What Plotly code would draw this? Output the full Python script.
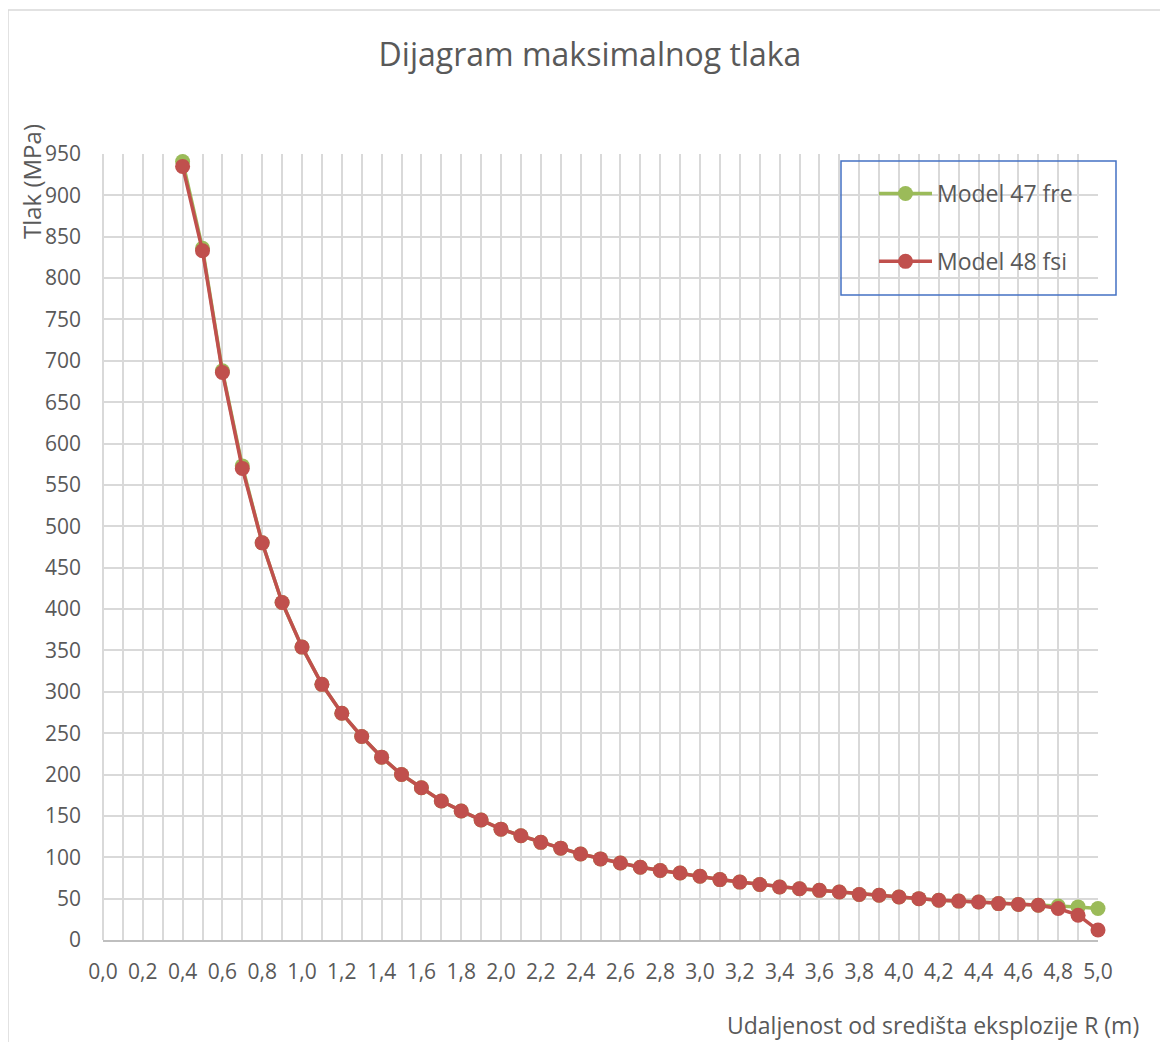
import plotly.graph_objects as go

# distance from explosion centre (m)
R = [0.4, 0.5, 0.6, 0.7, 0.8, 0.9, 1.0, 1.1, 1.2, 1.3, 1.4, 1.5, 1.6, 1.7, 1.8, 1.9,
     2.0, 2.1, 2.2, 2.3, 2.4, 2.5, 2.6, 2.7, 2.8, 2.9, 3.0, 3.1, 3.2, 3.3, 3.4, 3.5,
     3.6, 3.7, 3.8, 3.9, 4.0, 4.1, 4.2, 4.3, 4.4, 4.5, 4.6, 4.7, 4.8, 4.9, 5.0]

# max pressure (MPa)
model_47_fre = [941, 836, 688, 573, 480, 408, 354, 309, 274, 246, 221, 200, 184, 168, 156, 145,
                134, 126, 118, 111, 104, 98, 93, 88, 84, 81, 77, 73, 70, 67, 64, 62,
                60, 58, 55, 54, 52, 50, 48, 47, 46, 44, 43, 42, 41, 40, 38]
model_48_fsi = [935, 833, 686, 570, 480, 408, 354, 309, 274, 246, 221, 200, 184, 168, 156, 145,
                134, 126, 118, 111, 104, 98, 93, 88, 84, 81, 77, 73, 70, 67, 64, 62,
                60, 58, 55, 54, 52, 50, 48, 47, 46, 44, 43, 42, 38, 30, 12]

SERIES = [
    ('Model 47 fre', model_47_fre, '#9bbb59'),
    ('Model 48 fsi', model_48_fsi, '#c0504d'),
    ]

FONT = 'Open Sans'
TEXT = '#595959'
GRID = '#d9d9d9'

# the html body has an 8px margin, so the figure sits 8px in from the window corner
OFF = 8
W, H = 1152, 1034
# plot area in window pixels: x 103..1098, y 154..940
L, T = 103 - OFF, 154 - OFF
RM, B = W - (1098 - OFF), H - (940 - OFF)


def px(sx):
    return (sx - 103) / 995


def py(sy):
    return (940 - sy) / 786


traces = []
for i, (name, y, color) in enumerate(SERIES):
    traces.append(
        go.Scatter(
            x=R,
            y=y,
            name=name,
            legendgroup=str(i),
            mode='lines+markers',
            line=dict(color=color, width=3.5),
            marker=dict(color=color, size=15),
            cliponaxis=False,
            )
        )

layout = dict(
    width=W,
    height=H,
    margin=dict(l=L, r=RM, t=T, b=B, autoexpand=False),
    paper_bgcolor='white',
    plot_bgcolor='white',
    separators=',.',
    font=dict(family=FONT, color=TEXT, size=21),
    title=dict(
        text='Dijagram maksimalnog tlaka',
        font=dict(size=32, color=TEXT),
        xref='container',
        yref='container',
        x=(590 - OFF) / W,
        y=1 - (55 - OFF) / H,
        xanchor='center',
        yanchor='middle',
        ),
    xaxis=dict(
        range=(0, 5),
        tickmode='linear',
        tick0=0,
        dtick=0.2,
        tickformat='.1f',
        showgrid=True,
        gridcolor=GRID,
        gridwidth=1.5,
        minor=dict(dtick=0.1, showgrid=True, gridcolor=GRID, gridwidth=1.5),
        zeroline=True,
        zerolinecolor=GRID,
        zerolinewidth=1.5,
        showline=True,
        linecolor='#bfbfbf',
        linewidth=1.5,
        ticks='',
        ticklabelstandoff=12,
        tickfont=dict(size=21, color=TEXT),
        ),
    yaxis=dict(
        range=(0, 950),
        tickmode='linear',
        tick0=0,
        dtick=50,
        showgrid=True,
        gridcolor=GRID,
        gridwidth=1.5,
        zeroline=False,
        showline=False,
        ticks='',
        ticklabelstandoff=21,
        tickfont=dict(size=21, color=TEXT),
        ),
    showlegend=True,
    legend=dict(
        x=px(874),
        y=py(172),
        xanchor='left',
        yanchor='top',
        bgcolor='rgba(0,0,0,0)',
        borderwidth=0,
        font=dict(size=23, color=TEXT),
        tracegroupgap=35,
        itemwidth=53,
        ),
    annotations=[
        dict(
            text='Tlak (MPa)',
            textangle=-90,
            xref='paper',
            yref='paper',
            x=px(31),
            y=py(182),
            xanchor='center',
            yanchor='middle',
            showarrow=False,
            font=dict(size=24, color=TEXT),
            ),
        dict(
            text='Udaljenost od središta eksplozije R (m)',
            xref='paper',
            yref='paper',
            x=px(1141),
            y=py(1025),
            xanchor='right',
            yanchor='middle',
            showarrow=False,
            font=dict(size=23, color=TEXT),
            ),
        ],
    shapes=[
        # chart area border
        dict(
            type='rect',
            xref='paper',
            yref='paper',
            x0=px(8),
            y0=py(1100),
            x1=px(1200),
            y1=py(10),
            line=dict(color=GRID, width=1.5),
            layer='below',
            ),
        # legend frame
        dict(
            type='rect',
            xref='paper',
            yref='paper',
            x0=px(841),
            y0=py(295),
            x1=px(1116),
            y1=py(161),
            line=dict(color='#4472c4', width=1.5),
            layer='above',
            ),
        ],
    )

fig = go.Figure(data=traces, layout=layout)
fig.write_html('out.html')
